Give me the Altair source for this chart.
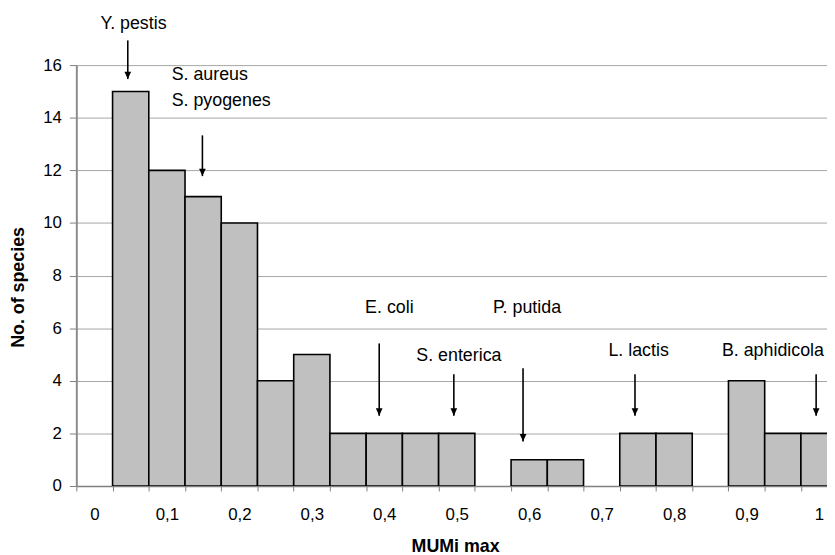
import altair as alt
import pandas as pd

# ---- data ----
bin_centers = [0.00, 0.05, 0.10, 0.15, 0.20, 0.25, 0.30, 0.35, 0.40, 0.45, 0.50,
               0.55, 0.60, 0.65, 0.70, 0.75, 0.80, 0.85, 0.90, 0.95, 1.00]
species_counts = [0, 15, 12, 11, 10, 4, 5, 2, 2, 2, 2,
                  0, 1, 1, 0, 2, 2, 0, 4, 2, 2]

# annotation texts (positions in data units)
ann_labels = ["Y. pestis", "S. aureus", "S. pyogenes", "E. coli", "S. enterica",
              "P. putida", "L. lactis", "B. aphidicola"]
ann_x = [0.054, 0.1066, 0.1066, 0.407, 0.503, 0.597, 0.751, 0.866]
ann_y = [17.58, 15.62, 14.65, 6.78, 4.93, 6.78, 5.12, 5.12]
ann_align = ["center", "left", "left", "center", "center", "center", "center", "left"]

# arrows
arrow_x = [0.046, 0.149, 0.393, 0.496, 0.5915, 0.746, 0.996]
arrow_top = [16.94, 13.33, 5.42, 4.25, 4.48, 4.25, 4.25]
arrow_bottom = [15.47, 11.78, 2.67, 2.67, 1.69, 2.67, 2.67]

FONT = "Liberation Sans"

bars_df = pd.DataFrame({"center": bin_centers, "count": species_counts})
ann_df = pd.DataFrame({"label": ann_labels, "x": ann_x, "y": ann_y, "align": ann_align})
arr_df = pd.DataFrame({"x": arrow_x, "top": arrow_top, "bottom": arrow_bottom})

half = 0.025
boundaries = [round(-half + 0.05 * i, 3) for i in range(21)]
label_vals = [round(0.1 * i, 1) for i in range(11)]
axis_vals = sorted(boundaries + label_vals)

is_label = "abs(datum.value*10 - round(datum.value*10)) < 0.001"

xscale = alt.Scale(domain=[-0.025, 1.011], nice=False, zero=False)
yscale = alt.Scale(domain=[0, 16], nice=False)

x_axis = alt.Axis(
    values=axis_vals,
    tickCount=100,
    labelExpr=f"{is_label} ? replace(format(datum.value, '.1~f'), '.', ',') : ''",
    labelOverlap=False,
    labelFlush=False,
    labelFont=FONT,
    labelFontSize=17,
    labelColor="black",
    labelPadding=15.5,
    tickSize=5,
    tickColor="#808080",
    tickWidth=1,
    tickOpacity={"condition": {"test": is_label, "value": 0}, "value": 1},
    domainColor="#808080",
    domainWidth=1.5,
    grid=False,
    title="MUMi max",
    titleFont=FONT,
    titleFontSize=18,
    titleFontWeight="bold",
    titleColor="black",
    titleX=382.5,
    titleY=66,
    titleAlign="center",
    titleBaseline="alphabetic",
)

y_axis = alt.Axis(
    values=list(range(0, 17, 2)),
    tickCount=20,
    labelFont=FONT,
    labelFontSize=17,
    labelColor="black",
    labelPadding=8,
    tickSize=7,
    tickColor="#808080",
    domainColor="#8c8c8c",
    domainWidth=2,
    grid=True,
    gridColor="#a6a6a6",
    gridWidth=1,
    title="No. of species",
    titleFont=FONT,
    titleFontSize=18,
    titleFontWeight="bold",
    titleColor="black",
    titleX=-58,
    titleY=224,
    titleAlign="center",
    titleBaseline="middle",
)

bars = alt.Chart(bars_df).transform_filter(
    "datum.count > 0"
).transform_calculate(
    lo=f"datum.center - {half}", hi=f"datum.center + {half}"
).mark_rect(
    fill="#c0c0c0", stroke="black", strokeWidth=1.6, clip=True
).encode(
    x=alt.X("lo:Q", scale=xscale, axis=x_axis),
    x2="hi:Q",
    y=alt.Y("count:Q", scale=yscale, axis=y_axis),
    y2=alt.datum(0),
)

rules = alt.Chart(arr_df).mark_rule(color="black", strokeWidth=1.6).encode(
    x=alt.X("x:Q", scale=xscale),
    y=alt.Y("top:Q", scale=yscale),
    y2="bottom:Q",
)

heads = alt.Chart(arr_df).mark_point(
    shape="M-0.45,-1 L0.45,-1 L0,0 Z", filled=True, color="black",
    size=225, opacity=1, strokeWidth=0
).encode(
    x=alt.X("x:Q", scale=xscale),
    y=alt.Y("bottom:Q", scale=yscale),
)

texts = []
for al in ["center", "left"]:
    texts.append(
        alt.Chart(ann_df).transform_filter(f"datum.align == '{al}'").mark_text(
            font=FONT, fontSize=18, color="black", align=al, baseline="middle"
        ).encode(
            x=alt.X("x:Q", scale=xscale),
            y=alt.Y("y:Q", scale=yscale),
            text="label:N",
        )
    )

chart = alt.layer(bars, rules, heads, *texts).properties(
    width=758,
    height=425,
    padding={"left": 69, "top": 55, "right": 0, "bottom": 67},
    autosize=alt.AutoSizeParams(type="none"),
    background="white",
).configure_view(stroke=None)

chart.save("out.html", embed_options={"renderer": "svg", "actions": False})
